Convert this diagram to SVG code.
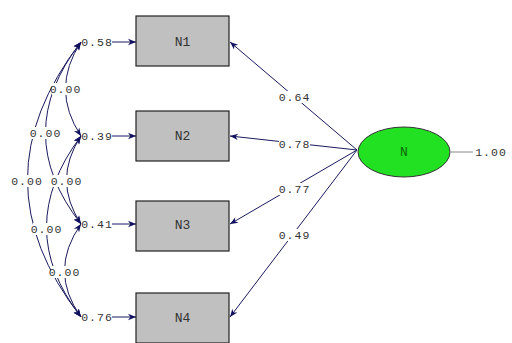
<svg xmlns="http://www.w3.org/2000/svg" width="512" height="343" viewBox="0 0 512 343">
<style>
.box{fill:#c0c0c0;stroke:#222;stroke-width:1.2}
.lbl{font-family:"Liberation Mono",monospace;font-size:13px;fill:#333;text-anchor:middle;dominant-baseline:central}
.num{font-family:"Liberation Mono",monospace;font-size:11.5px;letter-spacing:1px;fill:#333;text-anchor:middle;dominant-baseline:central}
.bg{fill:#fff}
.con{fill:none;stroke:#1a1a5e;stroke-width:1}
</style>
<defs>
<marker id="ah" viewBox="0 0 10 10" refX="10" refY="5" markerWidth="11" markerHeight="8" markerUnits="userSpaceOnUse" orient="auto-start-reverse">
<path d="M0,1 L10,5 L0,9 L3,5 Z" fill="#10105e"/>
</marker>
</defs>
<rect width="512" height="343" fill="#fff"/>
<g id="connectors">
<path class="con" d="M357,150 L230,42" marker-end="url(#ah)"/>
<path class="con" d="M357,150 L230,136" marker-end="url(#ah)"/>
<path class="con" d="M357,150 L230,224" marker-end="url(#ah)"/>
<path class="con" d="M357,150 L230,317" marker-end="url(#ah)"/>
<line x1="451" y1="152" x2="473" y2="152" stroke="#888" stroke-width="1"/>
<path class="con" d="M112,42 L136,42" marker-end="url(#ah)"/>
<path class="con" d="M112,136 L136,136" marker-end="url(#ah)"/>
<path class="con" d="M112,224 L136,224" marker-end="url(#ah)"/>
<path class="con" d="M112,317 L136,317" marker-end="url(#ah)"/>
<path class="con" d="M81,42 Q50,89 81,136" marker-start="url(#ah)" marker-end="url(#ah)"/>
<path class="con" d="M81,42 Q10,133 81,224" marker-start="url(#ah)" marker-end="url(#ah)"/>
<path class="con" d="M81,42 Q-26,180 81,317" marker-start="url(#ah)" marker-end="url(#ah)"/>
<path class="con" d="M81,136 Q52,180 81,224" marker-start="url(#ah)" marker-end="url(#ah)"/>
<path class="con" d="M81,136 Q12,228 81,317" marker-start="url(#ah)" marker-end="url(#ah)"/>
<path class="con" d="M81,224 Q48,271 81,317" marker-start="url(#ah)" marker-end="url(#ah)"/>
<rect class="bg" x="279" y="91" width="31" height="12"/>
<rect class="bg" x="279" y="138" width="31" height="12"/>
<rect class="bg" x="279" y="183" width="31" height="12"/>
<rect class="bg" x="279" y="229" width="31" height="12"/>
<rect class="bg" x="52" y="83" width="27" height="12"/>
<rect class="bg" x="32" y="127" width="27" height="12"/>
<rect class="bg" x="13" y="175" width="28" height="12"/>
<rect class="bg" x="53" y="175" width="27" height="12"/>
<rect class="bg" x="33" y="223" width="27" height="12"/>
<rect class="bg" x="51" y="266" width="27" height="12"/>
<text class="num" x="294.5" y="97">0.64</text>
<text class="num" x="294.5" y="144">0.78</text>
<text class="num" x="294.5" y="189">0.77</text>
<text class="num" x="294.5" y="235">0.49</text>
<text class="num" x="491" y="152">1.00</text>
<text class="num" x="97" y="42">0.58</text>
<text class="num" x="97" y="136">0.39</text>
<text class="num" x="97" y="224">0.41</text>
<text class="num" x="97" y="317">0.76</text>
<text class="num" x="65.5" y="89">0.00</text>
<text class="num" x="45.5" y="133">0.00</text>
<text class="num" x="27" y="181">0.00</text>
<text class="num" x="66.5" y="181">0.00</text>
<text class="num" x="46.5" y="229">0.00</text>
<text class="num" x="64.5" y="272">0.00</text>
</g>
<g id="N1"><rect class="box" x="136" y="16" width="93" height="50"/><text class="lbl" x="182.5" y="42">N1</text></g>
<g id="N2"><rect class="box" x="136" y="111" width="93" height="50"/><text class="lbl" x="182.5" y="136">N2</text></g>
<g id="N3"><rect class="box" x="136" y="201" width="93" height="50"/><text class="lbl" x="182.5" y="225">N3</text></g>
<g id="N4"><rect class="box" x="136" y="293" width="93" height="50"/><text class="lbl" x="182.5" y="318">N4</text></g>
<g id="N"><ellipse cx="404" cy="152" rx="46" ry="25" fill="#22e022" stroke="#333" stroke-width="1"/><text class="lbl" x="404" y="152" style="fill:#0a6a0a">N</text></g>
</svg>
